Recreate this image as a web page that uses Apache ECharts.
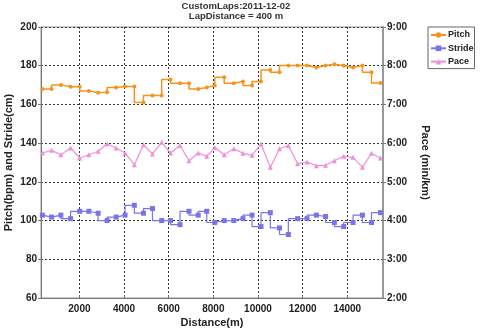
<!DOCTYPE html>
<html>
<head>
<meta charset="utf-8">
<script src="https://cdn.jsdelivr.net/npm/echarts@6/dist/echarts.min.js"></script>
<style>html,body{margin:0;padding:0;background:#fff}#c{width:480px;height:329px}</style>
</head>
<body>
<div id="c"></div>
<script>
var distances = [341, 753, 1170, 1605, 2013, 2422, 2839, 3242, 3646, 4045, 4462, 4870, 5274, 5686, 6081, 6507, 6910, 7323, 7704,
  8063, 8489, 8915, 9327, 9735, 10135, 10552, 10964, 11359, 11776, 12197, 12614, 13027, 13422, 13839, 14260, 14677, 15085, 15484];
var pitch = [168.0, 168.0, 170.1, 169.1, 169.1, 167.0, 166.0, 166.3, 168.8, 169.3, 169.3, 161.0, 164.6, 164.6, 172.9, 171.0, 171.0, 168.0, 168.8,
  169.8, 174.1, 171.0, 171.9, 169.8, 171.9, 177.8, 176.6, 180.1, 180.1, 180.1, 179.1, 180.1, 180.8, 180.1, 179.1, 180.1, 176.6, 171.1];
var stride = [102.8, 101.8, 102.8, 101.0, 104.8, 104.8, 103.8, 100.0, 101.8, 102.8, 107.9, 103.8, 106.2, 100.0, 100.0, 97.9, 104.8, 102.8, 104.8,
  99.0, 100.0, 100.0, 101.0, 102.8, 96.9, 104.1, 96.2, 92.8, 101.0, 101.0, 102.8, 102.1, 99.0, 96.9, 99.0, 102.8, 99.0, 104.1];
var pace = [5.745, 5.814, 5.70, 5.874, 5.616, 5.70, 5.79, 5.985, 5.874, 5.745, 5.443, 5.96, 5.72, 6.02, 5.745, 5.94, 5.546, 5.745, 5.66,
  5.89, 5.70, 5.856, 5.737, 5.686, 5.977, 5.376, 5.856, 5.94, 5.469, 5.513, 5.418, 5.428, 5.546, 5.66, 5.634, 5.376, 5.737, 5.616];
var titleLines = ['CustomLaps:2011-12-02', 'LapDistance = 400 m'];
var seriesNames = ['Pitch', 'Stride', 'Pace'];

function pairs(xs, ys) { return xs.map(function (x, i) { return [x, ys[i]]; }); }

var FONT = 'Liberation Sans';
var chart = echarts.init(document.getElementById('c'), null, { renderer: 'canvas' });
var axisText = { color: '#222', fontFamily: FONT, fontWeight: 'bold', fontSize: 10 };
var nameText = { color: '#222', fontFamily: FONT, fontWeight: 'bold', fontSize: 11 };
var gridLine = { show: true, lineStyle: { color: '#333', type: [2, 2], width: 1 } };
chart.setOption({
  animation: false,
  backgroundColor: '#fff',
  title: {
    text: titleLines.join('\n'),
    left: 236, textAlign: 'center', top: 1, padding: 0,
    textStyle: { fontFamily: FONT, fontSize: 9.5, fontWeight: 'bold', color: '#333', lineHeight: 10.5 }
  },
  legend: {
    orient: 'vertical', left: 428, top: 27,
    data: seriesNames,
    itemWidth: 15, itemHeight: 7, itemGap: 3.3,
    borderColor: '#666', borderWidth: 1, padding: [3, 1, 2, 2],
    textStyle: { fontFamily: FONT, fontSize: 9, fontWeight: 'bold', color: '#222', lineHeight: 10, padding: [0, 0, 0, -3] }
  },
  grid: { left: 41, right: 97, top: 27, bottom: 31, show: true, borderColor: '#999', borderWidth: 1, containLabel: false, outerBoundsMode: 'none' },
  xAxis: {
    type: 'value', min: 280, max: 15600, splitNumber: 8,
    name: 'Distance(m)', nameLocation: 'middle', nameGap: 19, nameMoveOverlap: false,
    nameTextStyle: nameText,
    axisLine: { show: true, lineStyle: { color: '#777' } },
    axisTick: { show: true, inside: true, length: 3, lineStyle: { color: '#777' } },
    axisLabel: Object.assign({ showMinLabel: false, showMaxLabel: false, margin: 6, formatter: function (v) { return String(v); } }, axisText),
    splitLine: gridLine
  },
  yAxis: [{
    type: 'value', min: 60, max: 200, interval: 20,
    name: 'Pitch(bpm) and Stride(cm)', nameLocation: 'middle', nameGap: 27, nameRotate: 90, nameMoveOverlap: false,
    nameTextStyle: nameText,
    axisLine: { show: true, lineStyle: { color: '#777' } },
    axisTick: { show: true, length: 3, lineStyle: { color: '#777' } },
    axisLabel: Object.assign({ margin: 4 }, axisText),
    splitLine: gridLine
  }, {
    type: 'value', min: 2, max: 9, interval: 1, position: 'right',
    name: 'Pace (min/km)', nameLocation: 'middle', nameGap: 37, nameRotate: -90, nameMoveOverlap: false,
    nameTextStyle: nameText,
    axisLine: { show: true, lineStyle: { color: '#999', width: 2 } },
    axisTick: { show: true, length: 3, lineStyle: { color: '#777' } },
    axisLabel: Object.assign({ margin: 4, formatter: function (v) { return v + ':00'; } }, axisText),
    splitLine: { show: false }
  }],
  series: [{
    name: 'Pitch', type: 'line', step: 'start', yAxisIndex: 0,
    data: pairs(distances, pitch),
    symbol: 'circle', symbolSize: 4, showAllSymbol: true,
    itemStyle: { color: '#F7921E' }, lineStyle: { width: 1.5, color: '#F7921E' }
  }, {
    name: 'Stride', type: 'line', step: 'start', yAxisIndex: 0,
    data: pairs(distances, stride),
    symbol: 'rect', symbolSize: 5, showAllSymbol: true,
    itemStyle: { color: '#7B74E8' }, lineStyle: { width: 1.2, color: '#7B74E8' }
  }, {
    name: 'Pace', type: 'line', yAxisIndex: 1,
    data: pairs(distances, pace),
    symbol: 'triangle', symbolSize: 5, showAllSymbol: true,
    itemStyle: { color: '#EE90D8' }, lineStyle: { width: 1.2, color: '#EE90D8' }
  }]
});
</script>
</body>
</html>
